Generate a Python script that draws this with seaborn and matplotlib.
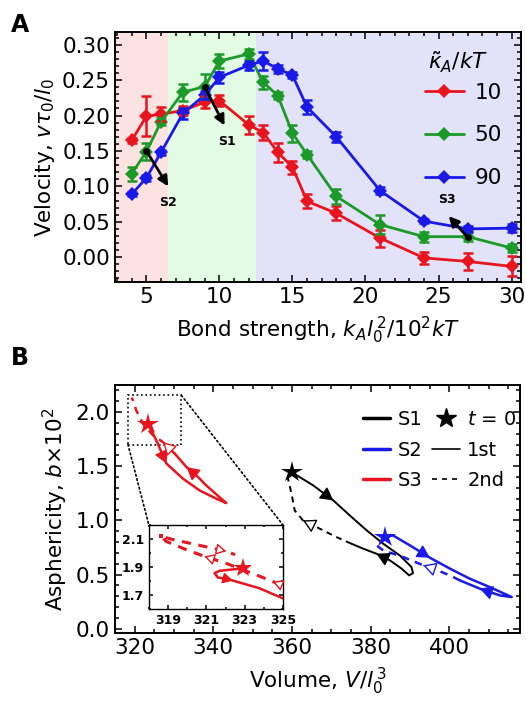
import matplotlib
matplotlib.use("Agg")
import numpy as np
import pandas as pd
import seaborn as sns
from matplotlib import pyplot as plt
from matplotlib.lines import Line2D
from matplotlib.patches import ConnectionPatch, Rectangle
from matplotlib.ticker import MultipleLocator, FormatStrFormatter

# ---- panel A: velocity vs bond strength ----
bond = [4, 5, 6, 7.5, 9, 10, 12, 13, 14, 15, 16, 18, 21, 24, 27, 30]
kappa_labels = ["10", "50", "90"]
vel_10 = [0.165, 0.199, 0.202, 0.207, 0.219, 0.221, 0.187, 0.176, 0.148, 0.127, 0.079, 0.062, 0.027, -0.001, -0.006, -0.013]
err_10 = [0.004, 0.028, 0.010, 0.006, 0.008, 0.008, 0.013, 0.010, 0.013, 0.009, 0.010, 0.010, 0.012, 0.009, 0.012, 0.014]
vel_50 = [0.118, 0.149, 0.191, 0.233, 0.241, 0.277, 0.287, 0.247, 0.228, 0.175, 0.145, 0.086, 0.046, 0.029, 0.029, 0.013]
err_50 = [0.010, 0.012, 0.005, 0.012, 0.017, 0.010, 0.007, 0.009, 0.005, 0.012, 0.005, 0.011, 0.013, 0.007, 0.006, 0.005]
vel_90 = [0.089, 0.112, 0.148, 0.203, 0.229, 0.254, 0.271, 0.277, 0.266, 0.257, 0.212, 0.170, 0.094, 0.051, 0.040, 0.041]
err_90 = [0.003, 0.004, 0.004, 0.008, 0.006, 0.008, 0.006, 0.013, 0.006, 0.004, 0.010, 0.007, 0.005, 0.003, 0.004, 0.006]
region_edges = [2.85, 6.5, 12.5, 30.65]
region_colors = ["#fde2e2", "#e2fbe2", "#e2e2f8"]
line_colors = {"10": "#e8141e", "50": "#1c9a28", "90": "#1a1ae8"}

# snapshots S1-S3 marked on panel A: start point, arrow end, label position
snap_names = ["S1", "S2", "S3"]
snap_start = [(9, 0.240), (5, 0.150), (27, 0.028)]
snap_end = [(10.35, 0.186), (6.5, 0.100), (25.7, 0.058)]
snap_label = [(10.5, 0.163), (6.5, 0.077), (25.6, 0.082)]

# ---- panel B: asphericity vs volume trajectories ----
s1_first_x = [359.9, 365.4, 370.5, 374.7, 379.0, 383.2, 387.4, 390.4, 390.8, 389.8, 387.9, 384.9, 381.5, 378.1, 375.1]
s1_first_y = [1.446, 1.323, 1.185, 1.046, 0.908, 0.785, 0.677, 0.569, 0.513, 0.492, 0.554, 0.631, 0.692, 0.739, 0.785]
s1_second_x = [375.1, 371.3, 367.1, 362.8, 360.7, 359.9, 359.0, 359.3]
s1_second_y = [0.785, 0.846, 0.923, 1.000, 1.092, 1.246, 1.385, 1.43]
s2_first_x = [383.6, 385.7, 390.0, 395.1, 400.2, 405.2, 410.3, 415.9, 412.9, 407.8, 402.7]
s2_first_y = [0.846, 0.861, 0.769, 0.655, 0.554, 0.462, 0.384, 0.292, 0.307, 0.369, 0.446]
s2_second_x = [402.7, 400.2, 395.9, 393.4, 388.3, 383.2, 381.5, 382.0]
s2_second_y = [0.446, 0.492, 0.554, 0.585, 0.661, 0.723, 0.769, 0.81]
s3_first_x = [323.4, 325.5, 328.1, 332.3, 336.5, 340.8, 343.3, 342.5, 338.2, 335.7, 333.2, 330.2]
s3_first_y = [1.893, 1.739, 1.524, 1.385, 1.277, 1.200, 1.160, 1.185, 1.323, 1.416, 1.492, 1.616]
s3_second_x = [330.2, 327.2, 324.7, 322.1, 320.4, 319.6, 319.2]
s3_second_y = [1.616, 1.723, 1.785, 1.893, 2.016, 2.108, 2.133]
# indices of path points carrying an arrowhead
s1_first_arrows, s1_second_arrows = [2, 12], [3]
s2_first_arrows, s2_second_arrows = [3, 9], [3]
s3_first_arrows, s3_second_arrows = [2, 10], [1]

# inset (zoom on S3 start)
ins_first_x = [322.9, 321.7, 321.43, 321.6, 322.04, 322.38, 323.77, 324.99]
ins_first_y = [1.89, 1.873, 1.856, 1.825, 1.815, 1.803, 1.748, 1.676]
ins_second_x = [324.9, 324.47, 323.6, 322.9, 322.0, 320.9, 319.95, 318.9, 318.65, 319.25, 320.47, 322.04, 322.5]
ins_second_y = [1.772, 1.796, 1.844, 1.88, 1.928, 1.976, 2.024, 2.083, 2.119, 2.096, 2.06, 2.012, 1.988]
ins_first_arrows, ins_second_arrows = [5], [1, 5, 11]
zoom_box = (318.3, 1.70, 331.9, 2.154)

sns.set_theme(style="ticks")
plt.rcParams["font.family"] = ["DejaVu Sans"]
plt.rcParams["mathtext.fontset"] = "dejavusans"
for key in ["text.color", "axes.labelcolor", "xtick.color", "ytick.color", "axes.edgecolor"]:
    plt.rcParams[key] = "black"
FS = 15.5

fig = plt.figure(figsize=(5.26, 7.11), dpi=100)
axA = fig.add_axes([0.2186, 0.6034, 0.772, 0.3516])
axB = fig.add_axes([0.2186, 0.1097, 0.770, 0.3488])
axI = fig.add_axes([0.2830, 0.1435, 0.2550, 0.1181])


def style_axes(ax, fs, major=5, minor=3):
    ax.tick_params(which="both", direction="in", top=True, right=True, labelsize=fs, width=1.1,
                   color="black", labelcolor="black")
    ax.tick_params(which="major", length=major)
    ax.tick_params(which="minor", length=minor)
    for sp in ax.spines.values():
        sp.set_linewidth(1.4)
        sp.set_color("black")


# ---- panel A ----
for (lo, hi), c in zip(zip(region_edges[:-1], region_edges[1:]), region_colors):
    axA.axvspan(lo, hi, color=c, lw=0, zorder=0)

df = pd.concat([
    pd.DataFrame({"bond": bond, "vel": v, "err": e, "kappa": k})
    for k, v, e in zip(kappa_labels, [vel_10, vel_50, vel_90], [err_10, err_50, err_90])
])
sns.lineplot(data=df, x="bond", y="vel", hue="kappa", palette=line_colors, marker="D",
             markersize=7, markeredgewidth=0, lw=2, legend=False, ax=axA, zorder=3)
for k, g in df.groupby("kappa"):
    axA.errorbar(g["bond"], g["vel"], yerr=g["err"], fmt="none", ecolor=line_colors[k],
                 elinewidth=1.8, capsize=3.5, capthick=1.8, zorder=3)

for name, s, e, l in zip(snap_names, snap_start, snap_end, snap_label):
    axA.plot(*s, "o", color="black", ms=4, zorder=5)
    axA.annotate("", xy=e, xytext=s, zorder=5,
                 arrowprops=dict(arrowstyle="-|>,head_length=0.5,head_width=0.25", color="black", lw=2,
                                 shrinkA=0, shrinkB=0))
    axA.text(*l, name, fontsize=9, fontweight="bold", ha="center", va="center", zorder=5)

axA.set_xlim(region_edges[0], region_edges[-1])
axA.set_ylim(-0.035, 0.318)
axA.xaxis.set_major_locator(MultipleLocator(5))
axA.xaxis.set_minor_locator(MultipleLocator(1))
axA.yaxis.set_major_locator(MultipleLocator(0.05))
axA.yaxis.set_minor_locator(MultipleLocator(0.01))
axA.yaxis.set_major_formatter(FormatStrFormatter("%.2f"))
style_axes(axA, FS)
axA.set_xlabel(r"Bond strength, $k_Al_0^{\,2}/10^2kT$", fontsize=FS, labelpad=6)
axA.set_ylabel(r"Velocity, $v\tau_0/l_0$", fontsize=FS, labelpad=4)

handles = [Line2D([], [], color=line_colors[k], marker="D", ms=7, mew=0, lw=2) for k in kappa_labels]
axA.legend(handles, kappa_labels, loc="center right", bbox_to_anchor=(1.0, 0.586), frameon=False,
           fontsize=FS, handlelength=1.8, labelspacing=1.05, handletextpad=0.5)
axA.text(0.845, 0.88, r"$\tilde{\kappa}_A/kT$", transform=axA.transAxes, fontsize=FS,
         ha="center", va="center")

# ---- panel B ----


def draw_path(ax, xs, ys, color, ls, lw, arrows, hollow, head=0.36):
    sns.lineplot(x=xs, y=ys, sort=False, estimator=None, color=color, lw=lw, ax=ax, zorder=3)
    ax.lines[-1].set_linestyle(ls)
    for i in arrows:
        x0, y0, x1, y1 = xs[i - 1], ys[i - 1], xs[i], ys[i]
        ax.annotate("", xy=(x1, y1), xytext=(x1 - 0.05 * (x1 - x0), y1 - 0.05 * (y1 - y0)), zorder=4,
                    arrowprops=dict(arrowstyle=f"-|>,head_length={head * 1.8},head_width={head}",
                                    color=color, fc="white" if hollow else color, lw=1.0,
                                    shrinkA=0, shrinkB=0))


paths = [
    ("black", 1.4, s1_first_x, s1_first_y, s1_first_arrows, s1_second_x, s1_second_y, s1_second_arrows),
    ("#1a1ae8", 1.8, s2_first_x, s2_first_y, s2_first_arrows, s2_second_x, s2_second_y, s2_second_arrows),
    ("#e8141e", 1.8, s3_first_x, s3_first_y, s3_first_arrows, s3_second_x, s3_second_y, s3_second_arrows),
]
for color, lw, fx, fy, fa, sx, sy, sa in paths:
    draw_path(axB, fx, fy, color, "-", lw, fa, False)
    draw_path(axB, sx, sy, color, (0, (3, 2.5)), lw, sa, True)
    axB.plot(fx[0], fy[0], marker="*", color=color, ms=16, mew=0, zorder=5)

x0, y0, x1, y1 = zoom_box
axB.add_patch(Rectangle((x0, y0), x1 - x0, y1 - y0, fill=False, ls=":", lw=1.2, ec="black", zorder=2))
for pa, pb in [((x0, y0), (0, 1)), ((x1, y1), (1, 1))]:
    con = ConnectionPatch(xyA=pa, coordsA=axB.transData, xyB=pb, coordsB=axI.transAxes,
                          ls=":", lw=1.2, color="black")
    fig.add_artist(con)

axB.set_xlim(315, 418)
axB.set_ylim(-0.04, 2.25)
axB.xaxis.set_major_locator(MultipleLocator(20))
axB.xaxis.set_minor_locator(MultipleLocator(5))
axB.yaxis.set_major_locator(MultipleLocator(0.5))
axB.yaxis.set_minor_locator(MultipleLocator(0.1))
axB.yaxis.set_major_formatter(FormatStrFormatter("%.1f"))
style_axes(axB, FS)
axB.set_xlabel(r"Volume, $V/l_0^{\,3}$", fontsize=FS, labelpad=6)
axB.set_ylabel(r"Asphericity, $b$$\times$10$^2$", fontsize=FS, labelpad=4)

legB_handles = [
    Line2D([], [], color="black", lw=2.5), Line2D([], [], color="#1a1ae8", lw=2.5),
    Line2D([], [], color="#e8141e", lw=2.5),
    Line2D([], [], color="black", marker="*", ms=15, ls="none"),
    Line2D([], [], color="black", lw=1.2), Line2D([], [], color="black", lw=1.2, ls=(0, (3, 3))),
]
legB_labels = ["S1", "S2", "S3", r"$t$ = 0", "1st", "2nd"]
axB.legend(legB_handles, legB_labels, ncol=2, loc="upper right", bbox_to_anchor=(1.035, 0.97),
           frameon=False, fontsize=FS - 1.5, handlelength=1.4, columnspacing=0.5, handletextpad=0.4,
           labelspacing=0.6)

# ---- inset ----
draw_path(axI, ins_first_x, ins_first_y, "#e8141e", "-", 1.8, ins_first_arrows, False, head=0.28)
draw_path(axI, ins_second_x, ins_second_y, "#e8141e", (0, (3, 2.5)), 2.2, ins_second_arrows, True, head=0.28)
axI.plot(ins_first_x[0], ins_first_y[0], marker="*", color="#e8141e", ms=14, mew=0, zorder=5)
axI.plot(ins_second_x[8], ins_second_y[8], marker="s", color="#e8141e", ms=3.5, mew=0, zorder=5)
axI.set_xlim(318, 325)
axI.set_ylim(1.6, 2.2)
axI.set_xticks([319, 321, 323, 325])
axI.xaxis.set_minor_locator(MultipleLocator(1))
axI.set_yticks([1.7, 1.9, 2.1])
axI.yaxis.set_minor_locator(MultipleLocator(0.1))
axI.yaxis.set_major_formatter(FormatStrFormatter("%.1f"))
axI.set_facecolor("white")
style_axes(axI, 9, major=3, minor=1.5)
for sp in axI.spines.values():
    sp.set_linewidth(1.0)
for lab in axI.get_xticklabels() + axI.get_yticklabels():
    lab.set_fontweight("bold")

fig.text(0.02, 0.965, "A", fontsize=17, fontweight="bold", ha="left", va="center")
fig.text(0.02, 0.497, "B", fontsize=17, fontweight="bold", ha="left", va="center")

fig.savefig("out.png", dpi=100)
